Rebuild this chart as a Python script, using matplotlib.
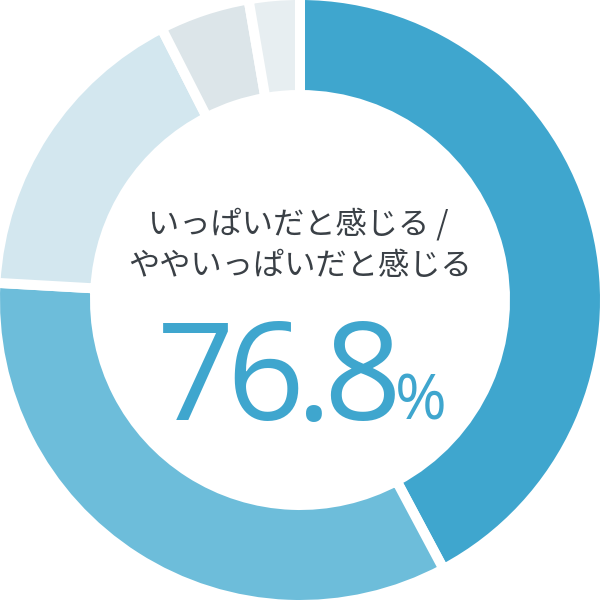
import matplotlib
matplotlib.use("Agg")
import matplotlib.pyplot as plt

labels = ["いっぱいだと感じる", "ややいっぱいだと感じる", "どちらともいえない", "あまり感じない", "感じない"]
values = [42.2, 33.7, 16.6, 4.8, 2.7]
colors = ["#3FA6CE", "#6DBDDA", "#D3E7EF", "#DCE5E9", "#E7EEF1"]
caption_lines = ["いっぱいだと感じる /", "ややいっぱいだと感じる"]
total_label = "76.8"
unit_label = "%"

fig = plt.figure(figsize=(6, 6), dpi=100)
ax = fig.add_axes([0, 0, 1, 1])
ax.set_xlim(-1, 1)
ax.set_ylim(-1, 1)
ax.set_aspect("equal")
ax.axis("off")

stroke = 1 / 60
ax.pie(values, colors=colors, startangle=90, counterclock=False,
       radius=1 + stroke,
       wedgeprops=dict(width=0.3 + 2 * stroke, edgecolor="white", linewidth=7.2))
ax.set_xlim(-1, 1)
ax.set_ylim(-1, 1)

def px(x, y):
    return (x - 300) / 300, (300 - y) / 300

cjk = ["Noto Sans CJK JP", "DejaVu Sans"]
ax.text(*px(298, 224), caption_lines[0], ha="center", va="center",
        fontsize=22.5, color="#3A4046", family=cjk)
ax.text(*px(300, 266), caption_lines[1], ha="center", va="center",
        fontsize=22.5, color="#3A4046", family=cjk)

# big number, glyph by glyph so the spacing can be kept tight
renderer = fig.canvas.get_renderer()
x = 157
tracking = 8.5
for ch in total_label:
    t = ax.text(*px(x, 420), ch, ha="left", va="baseline",
                fontsize=98, color="#3FA6CE", family="Open Sans", fontweight="normal")
    x += t.get_window_extent(renderer).width - tracking
ax.text(*px(x + 2, 420), unit_label, ha="left", va="baseline",
        fontsize=45, color="#3FA6CE", family="Open Sans", fontweight="normal")

fig.savefig("out.png", dpi=100)
